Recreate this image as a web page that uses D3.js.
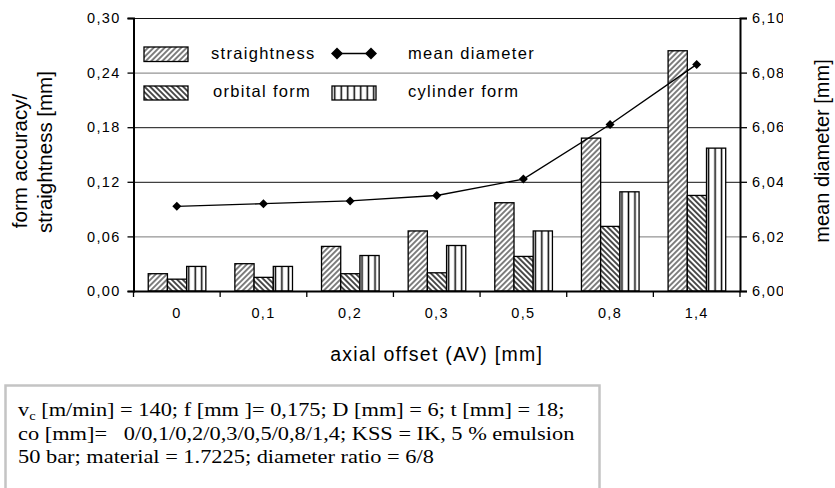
<!DOCTYPE html>
<html>
<head>
<meta charset="utf-8">
<script src="https://cdn.jsdelivr.net/npm/d3@7"></script>
<style>
  body { margin: 0; background: #fff; }
  svg { display: block; }
  text { font-family: "Liberation Sans", Arial, sans-serif; fill: #000; }
</style>
</head>
<body>
<div id="chart"></div>
<script>
// data
var categories   = ["0", "0,1", "0,2", "0,3", "0,5", "0,8", "1,4"];
var straightness = [0.019, 0.030, 0.049, 0.066, 0.097, 0.168, 0.264];
var orbitalForm  = [0.013, 0.015, 0.019, 0.020, 0.038, 0.071, 0.105];
var cylinderForm = [0.027, 0.027, 0.039, 0.050, 0.066, 0.109, 0.157];
var meanDiameter = [6.031, 6.032, 6.033, 6.035, 6.041, 6.061, 6.083];

var leftTicks  = [0, 0.06, 0.12, 0.18, 0.24, 0.30];
var rightTicks = [6.00, 6.02, 6.04, 6.06, 6.08, 6.10];

var seriesKeys = ["straightness", "orbital", "cylinder"];
var seriesData = { straightness: straightness, orbital: orbitalForm, cylinder: cylinderForm };
var fills = { straightness: "url(#pStraight)", orbital: "url(#pOrbital)", cylinder: "url(#pCylinder)" };

var noteLines = [
  "co [mm]=   0/0,1/0,2/0,3/0,5/0,8/1,4; KSS = IK, 5 % emulsion",
  "50 bar; material = 1.7225; diameter ratio = 6/8"
];

var W = 835, H = 488;
var margin = { top: 18, right: 95, bottom: 197, left: 133.5 };
var width = W - margin.left - margin.right;
var height = H - margin.top - margin.bottom;

var svg = d3.select("#chart").append("svg")
  .attr("width", W).attr("height", H);

// hatch patterns
var defs = svg.append("defs");
function hatch(id, angle, step, sw) {
  var p = defs.append("pattern")
    .attr("id", id)
    .attr("patternUnits", "userSpaceOnUse")
    .attr("width", step).attr("height", step)
    .attr("patternTransform", "rotate(" + angle + ")");
  p.append("rect").attr("width", step).attr("height", step).attr("fill", "#fff");
  p.append("line")
    .attr("x1", step / 2).attr("y1", 0).attr("x2", step / 2).attr("y2", step)
    .attr("stroke", "#000").attr("stroke-width", sw);
}
hatch("pStraight", 45, 3.9, 1.0);
hatch("pOrbital", -45, 3.9, 1.4);
hatch("pCylinder", 0, 6.5, 1.5);

var g = svg.append("g")
  .attr("transform", "translate(" + margin.left + "," + margin.top + ")");

var x = d3.scaleBand().domain(categories).range([0, width]);
var x1 = d3.scaleBand().domain(seriesKeys)
  .range([x.bandwidth() * 0.17, x.bandwidth() * 0.835]);
var y = d3.scaleLinear().domain([0, 0.30]).range([height, 0]);
var y2 = d3.scaleLinear().domain([6.00, 6.10]).range([height, 0]);

var comma = function (f) { return function (d) { return d3.format(f)(d).replace(".", ","); }; };

// grid lines (two of them come out grey in the original scan)
g.append("g")
  .attr("class", "grid")
  .call(d3.axisLeft(y).tickValues(leftTicks.slice(1)).tickSize(-width).tickFormat(""))
  .call(function (s) {
    s.select(".domain").remove();
    s.selectAll("line")
      .attr("stroke", function (d) { return (d === 0.24 || d === 0.06) ? "#7a7a7a" : "#111"; })
      .attr("stroke-width", 1);
  });

// bars
var groups = g.selectAll("g.cat")
  .data(categories)
  .enter().append("g")
  .attr("class", "cat")
  .attr("transform", function (d) { return "translate(" + x(d) + ",0)"; });

groups.selectAll("rect")
  .data(function (d, i) { return seriesKeys.map(function (k) { return { key: k, value: seriesData[k][i] }; }); })
  .enter().append("rect")
  .attr("x", function (d) { return x1(d.key); })
  .attr("width", x1.bandwidth())
  .attr("y", function (d) { return y(d.value); })
  .attr("height", function (d) { return height - y(d.value); })
  .attr("fill", function (d) { return fills[d.key]; })
  .attr("stroke", "#000")
  .attr("stroke-width", 1.3);

// mean diameter line
var line = d3.line()
  .x(function (d, i) { return x(categories[i]) + x.bandwidth() / 2; })
  .y(function (d) { return y2(d); });

g.append("path")
  .datum(meanDiameter)
  .attr("fill", "none")
  .attr("stroke", "#000")
  .attr("stroke-width", 1.4)
  .attr("d", line);

function diamond(r) { return "M0," + (-r) + "L" + r + ",0L0," + r + "L" + (-r) + ",0Z"; }

g.selectAll("path.marker")
  .data(meanDiameter)
  .enter().append("path")
  .attr("class", "marker")
  .attr("d", diamond(4.5))
  .attr("transform", function (d, i) {
    return "translate(" + (x(categories[i]) + x.bandwidth() / 2) + "," + y2(d) + ")";
  })
  .attr("fill", "#000");

// left axis
g.append("g")
  .call(d3.axisLeft(y).tickValues(leftTicks).tickSize(6).tickPadding(7).tickFormat(comma(".2f")))
  .call(function (s) {
    s.select(".domain").attr("stroke-width", 2);
    s.selectAll("line").attr("stroke-width", 1.3);
    s.selectAll("text").style("font-size", "14.5px").style("letter-spacing", "1.3px");
  });

// right axis
g.append("g")
  .attr("transform", "translate(" + width + ",0)")
  .call(d3.axisRight(y2).tickValues(rightTicks).tickSize(7).tickPadding(5).tickFormat(comma(".2f")))
  .call(function (s) {
    s.select(".domain").attr("stroke-width", 2);
    s.selectAll("line").attr("stroke-width", 1.3);
    s.selectAll("text").style("font-size", "14.5px").style("letter-spacing", "1.3px");
  });

// the original crops the right tick labels
svg.append("rect").attr("x", 783).attr("y", 0).attr("width", 29).attr("height", 310).attr("fill", "#fff");

// bottom axis: labels at band centres, ticks at band edges
g.append("g")
  .attr("transform", "translate(0," + height + ")")
  .call(d3.axisBottom(x).tickSize(0).tickPadding(17))
  .call(function (s) {
    s.select(".domain").attr("stroke-width", 2);
    s.selectAll("text").style("font-size", "14.5px").style("letter-spacing", "1.3px");
  });

g.selectAll("line.xtick")
  .data(categories.concat([null]))
  .enter().append("line")
  .attr("class", "xtick")
  .attr("x1", function (d) { return d === null ? width : x(d); })
  .attr("x2", function (d) { return d === null ? width : x(d); })
  .attr("y1", height).attr("y2", height + 6)
  .attr("stroke", "#000").attr("stroke-width", 1.3);

// axis titles
svg.append("text")
  .attr("x", margin.left + width / 2).attr("y", 361)
  .attr("text-anchor", "middle")
  .style("font-size", "19.5px").style("letter-spacing", "1.3px")
  .text("axial offset (AV) [mm]");

svg.append("text")
  .attr("transform", "translate(27,161) rotate(-90)")
  .attr("text-anchor", "middle")
  .style("font-size", "20.5px")
  .text("form accuracy/");
svg.append("text")
  .attr("transform", "translate(52,152) rotate(-90)")
  .attr("text-anchor", "middle")
  .style("font-size", "20.5px")
  .text("straightness [mm]");

svg.append("text")
  .attr("transform", "translate(829,151) rotate(-90)")
  .attr("text-anchor", "middle")
  .style("font-size", "20px")
  .text("mean diameter [mm]");

// legend
var leg = svg.append("g");
var legFont = function (s) { s.style("font-size", "16.5px").style("letter-spacing", "1.3px"); };
leg.append("rect").attr("x", 144).attr("y", 47).attr("width", 44).attr("height", 14.5)
  .attr("fill", fills.straightness).attr("stroke", "#000").attr("stroke-width", 1.3);
leg.append("text").attr("x", 211).attr("y", 59).call(legFont).text("straightness");
leg.append("rect").attr("x", 144).attr("y", 86).attr("width", 44).attr("height", 14)
  .attr("fill", fills.orbital).attr("stroke", "#000").attr("stroke-width", 1.3);
leg.append("text").attr("x", 213).attr("y", 97).call(legFont).text("orbital form");
leg.append("line").attr("x1", 337).attr("x2", 371).attr("y1", 53.5).attr("y2", 53.5)
  .attr("stroke", "#000").attr("stroke-width", 1.4);
[337, 371].forEach(function (cx) {
  leg.append("path").attr("d", diamond(6)).attr("transform", "translate(" + cx + ",53.5)").attr("fill", "#000");
});
leg.append("text").attr("x", 408).attr("y", 59).call(legFont).text("mean diameter");
leg.append("rect").attr("x", 332).attr("y", 86).attr("width", 44).attr("height", 14)
  .attr("fill", fills.cylinder).attr("stroke", "#000").attr("stroke-width", 1.3);
leg.append("text").attr("x", 408).attr("y", 97).call(legFont).text("cylinder form");

// parameter box (text is drawn slightly wide, like the original)
var box = svg.append("g");
box.append("rect").attr("x", 5.5).attr("y", 385.5).attr("width", 594).attr("height", 120)
  .attr("fill", "#fff").attr("stroke", "#c4c4c4").attr("stroke-width", 2.5);

var serif = function (s) {
  s.style("font-family", "'Liberation Serif', 'Times New Roman', serif")
   .style("font-size", "18.5px").style("white-space", "pre");
};
var t1 = box.append("text").attr("transform", "translate(18,416) scale(1.21,1)").call(serif);
t1.append("tspan").text("v");
t1.append("tspan").attr("dy", 4).style("font-size", "12px").text("c");
t1.append("tspan").attr("dy", -4).text(" [m/min] = 140; f [mm ]= 0,175; D [mm] = 6; t [mm] = 18;");

box.selectAll("text.note")
  .data(noteLines)
  .enter().append("text")
  .attr("class", "note")
  .attr("transform", function (d, i) { return "translate(18," + (440 + i * 22.5) + ") scale(1.21,1)"; })
  .call(serif)
  .text(function (d) { return d; });
</script>
</body>
</html>
